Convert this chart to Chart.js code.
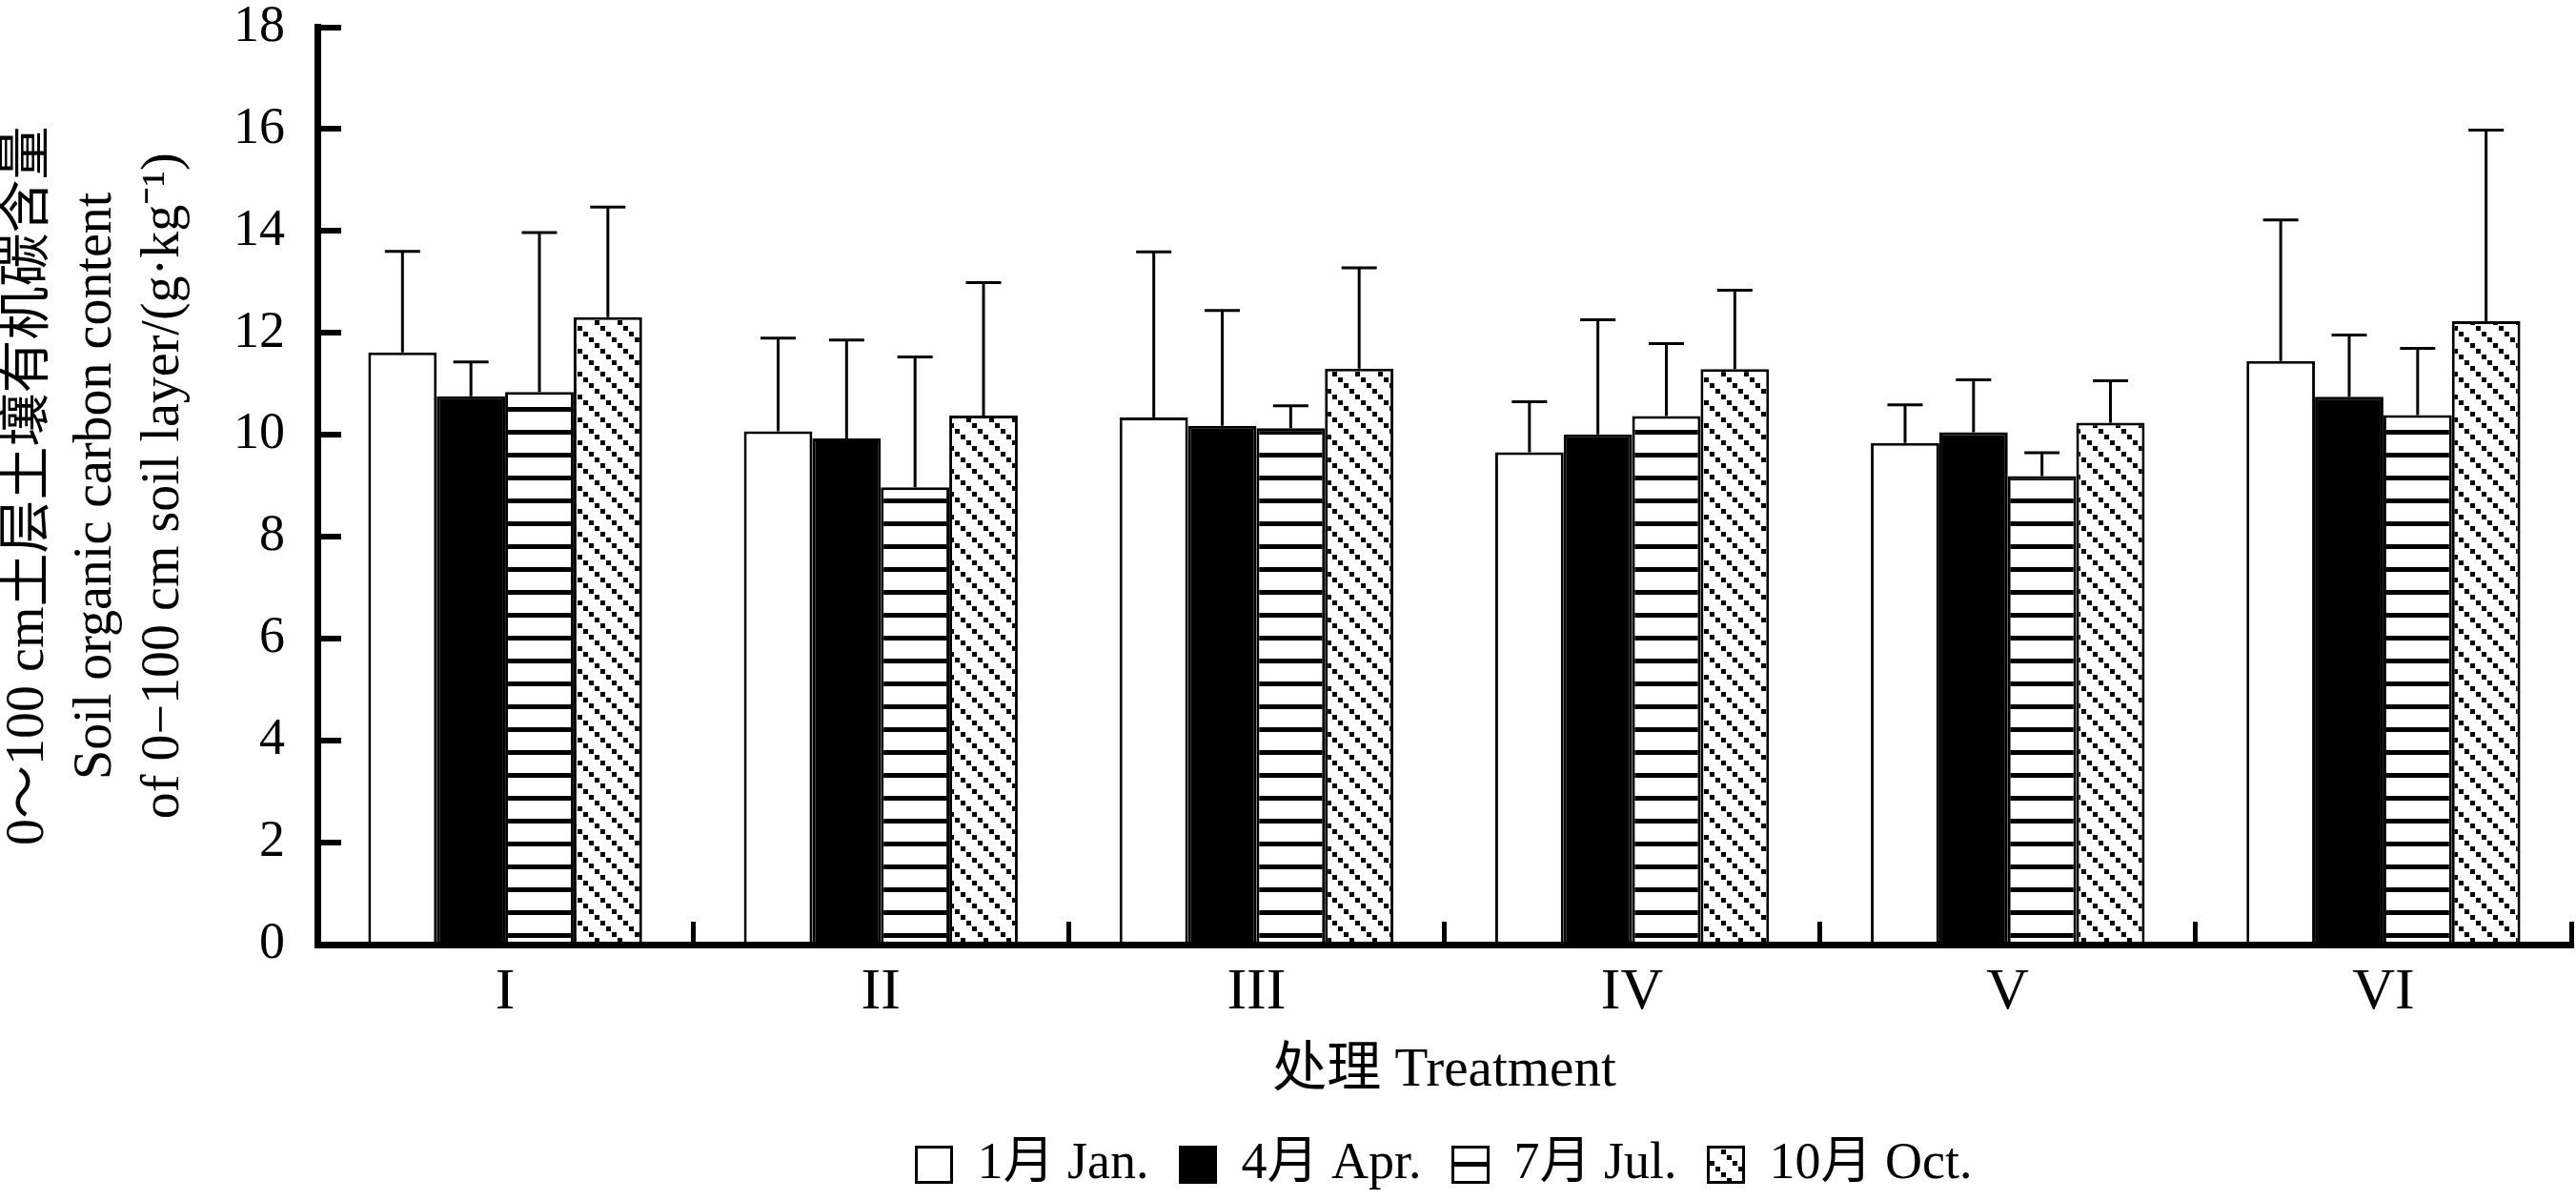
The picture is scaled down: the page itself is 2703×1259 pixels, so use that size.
<!DOCTYPE html>
<html>
<head>
<meta charset="utf-8">
<title>Soil organic carbon content</title>
<script src="https://cdn.jsdelivr.net/npm/chart.js@4.4.1/dist/chart.umd.min.js"></script>
<style>
  html, body { margin: 0; padding: 0; background: #fff; overflow: hidden; }
  canvas { display: block; }
</style>
</head>
<body>
<canvas id="chart" width="2703" height="1259"></canvas>
<script>
// treatments and monthly means / standard deviations (g/kg)
const treatments = ['I', 'II', 'III', 'IV', 'V', 'VI']
const monthLabels = ['1月 Jan.', '4月 Apr.', '7月 Jul.', '10月 Oct.']

const janMean = [11.62, 10.07, 10.34, 9.66, 9.84, 11.45]
const janSd = [1.98, 1.83, 3.25, 0.99, 0.75, 2.77]
const aprMean = [10.76, 9.93, 10.18, 10.01, 10.05, 10.75]
const aprSd = [0.67, 1.93, 2.26, 2.25, 1.03, 1.21]
const julMean = [10.84, 8.97, 10.13, 10.37, 9.19, 10.39]
const julSd = [3.13, 2.56, 0.44, 1.42, 0.46, 1.31]
const octMean = [12.31, 10.38, 11.30, 11.29, 10.24, 12.23]
const octSd = [2.16, 2.61, 1.98, 1.55, 0.82, 3.75]

const yMin = 0
const yMax = 18
const yStep = 2

const yTitle = ['0～100 cm土层土壤有机碳含量', 'Soil organic carbon content', 'of 0−100 cm soil layer/(g·kg⁻¹)']
const xTitle = '处理 Treatment'

const SERIF = "'Liberation Serif', 'Times New Roman', 'Noto Sans CJK SC', serif"

// hatch fills, anchored to the canvas origin
function stripePattern() {
  const c = document.createElement('canvas')
  c.width = 24
  c.height = 24
  const g = c.getContext('2d')
  g.fillStyle = '#fff'
  g.fillRect(0, 0, 24, 24)
  g.fillStyle = '#000'
  g.fillRect(0, 19, 24, 5)
  return g.createPattern(c, 'repeat')
}

function diagonalPattern() {
  const c = document.createElement('canvas')
  c.width = 24
  c.height = 24
  const g = c.getContext('2d')
  g.fillStyle = '#fff'
  g.fillRect(0, 0, 24, 24)
  g.fillStyle = '#000'
  for (let i = 0; i < 4; i++) g.fillRect(i * 6, i * 6, 5, 5)
  return g.createPattern(c, 'repeat')
}

const errorSets = [janSd, aprSd, julSd, octSd]

const errorBars = {
  id: 'errorBars',
  afterDatasetsDraw(chart) {
    const { ctx } = chart
    const y = chart.scales.y
    ctx.save()
    ctx.strokeStyle = '#000'
    ctx.lineWidth = 3
    chart.data.datasets.forEach((ds, di) => {
      const meta = chart.getDatasetMeta(di)
      meta.data.forEach((bar, i) => {
        const top = y.getPixelForValue(ds.data[i] + errorSets[di][i])
        ctx.beginPath()
        ctx.moveTo(bar.x, bar.y)
        ctx.lineTo(bar.x, top)
        ctx.moveTo(bar.x - 18.5, top)
        ctx.lineTo(bar.x + 18.5, top)
        ctx.stroke()
      })
    })
    ctx.restore()
  }
}

const barStyle = {
  borderColor: '#000',
  borderWidth: 3,
  barPercentage: 1,
  categoryPercentage: 0.729
}

const ctx = document.getElementById('chart').getContext('2d')

new Chart(ctx, {
  type: 'bar',
  data: {
    labels: treatments,
    datasets: [
      { label: monthLabels[0], data: janMean, backgroundColor: '#fff', ...barStyle },
      { label: monthLabels[1], data: aprMean, backgroundColor: '#000', ...barStyle },
      { label: monthLabels[2], data: julMean, backgroundColor: stripePattern(), ...barStyle },
      { label: monthLabels[3], data: octMean, backgroundColor: diagonalPattern(), ...barStyle }
    ]
  },
  options: {
    responsive: false,
    devicePixelRatio: 1,
    animation: false,
    layout: {
      padding: { left: 0, right: 5, top: 28.5, bottom: 0 }
    },
    plugins: {
      tooltip: { enabled: false },
      legend: {
        position: 'bottom',
        fullSize: false,
        labels: {
          color: '#000',
          boxWidth: 37,
          boxHeight: 37,
          padding: 33,
          font: { family: SERIF, size: 54, lineHeight: 1 }
        }
      }
    },
    scales: {
      x: {
        z: 1,
        grid: {
          display: true,
          offset: true,
          drawOnChartArea: false,
          drawTicks: true,
          tickLength: -24,
          lineWidth: 5,
          color: '#000'
        },
        border: { display: true, width: 7, color: '#000' },
        ticks: {
          color: '#000',
          padding: 38,
          maxRotation: 0,
          autoSkip: false,
          font: { family: SERIF, size: 62, lineHeight: 1.2 }
        },
        title: {
          display: true,
          text: xTitle,
          color: '#000',
          padding: { top: 0, bottom: 4 },
          font: { family: SERIF, size: 57, lineHeight: 1.2 }
        },
        afterFit(scale) {
          scale.paddingLeft = 0
          scale.paddingRight = 0
          scale.height = 1259 - 989 - (56 + 33 + 10)
        }
      },
      y: {
        min: yMin,
        max: yMax,
        grid: {
          display: true,
          drawOnChartArea: false,
          drawTicks: true,
          tickLength: -25,
          lineWidth: 6,
          color: '#000'
        },
        border: { display: true, width: 7, color: '#000' },
        ticks: {
          stepSize: yStep,
          color: '#000',
          padding: 59,
          font: { family: SERIF, size: 54, lineHeight: 1 }
        },
        title: {
          display: true,
          text: yTitle,
          color: '#000',
          padding: { top: -5.5, bottom: 0 },
          font: { family: SERIF, size: 56, lineHeight: 1.27 }
        },
        afterFit(scale) {
          scale.width = 333
          scale.paddingTop = 0
          scale.paddingBottom = 0
        }
      }
    }
  },
  plugins: [errorBars]
})
</script>
</body>
</html>
